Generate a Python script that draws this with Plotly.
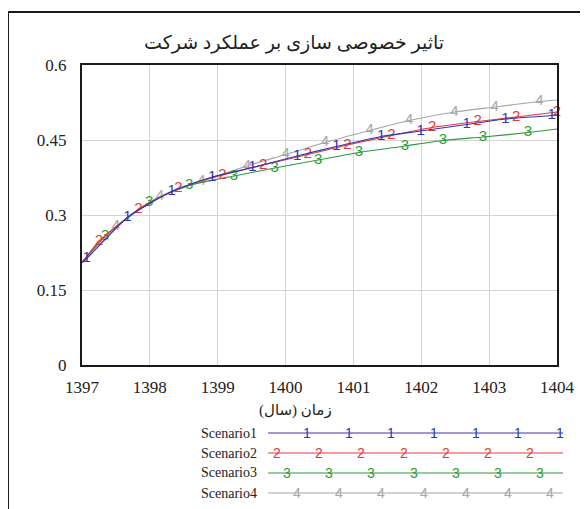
import plotly.graph_objects as go

# ---- data ----
title_text = "تاثیر خصوصی سازی بر عملکرد شرکت"
xaxis_title = "زمان (سال)"
series_names = ["Scenario1", "Scenario2", "Scenario3", "Scenario4"]
series_marks = ["1", "2", "3", "4"]

t1 = [1397, 1397.07, 1397.67, 1398.32, 1398.92, 1399.51, 1400.17, 1400.75, 1401.41, 1401.99, 1402.67, 1403.24, 1403.92, 1404]
v1 = [0.205, 0.213, 0.295, 0.347, 0.376, 0.395, 0.418, 0.437, 0.457, 0.468, 0.481, 0.492, 0.499, 0.501]

t2 = [1397, 1397.25, 1397.83, 1398.42, 1399.07, 1399.67, 1400.33, 1400.91, 1401.56, 1402.16, 1402.83, 1403.4, 1404]
v2 = [0.205, 0.247, 0.311, 0.353, 0.380, 0.400, 0.421, 0.440, 0.459, 0.475, 0.487, 0.496, 0.506]

t3 = [1397, 1397.34, 1397.99, 1398.58, 1399.24, 1399.84, 1400.48, 1401.08, 1401.76, 1402.32, 1402.91, 1403.57, 1404]
v3 = [0.205, 0.258, 0.325, 0.359, 0.378, 0.394, 0.410, 0.425, 0.438, 0.449, 0.456, 0.465, 0.472]

t4 = [1397, 1397.5, 1398.15, 1398.76, 1399.43, 1400.0, 1400.58, 1401.24, 1401.82, 1402.49, 1403.08, 1403.74, 1404]
v4 = [0.205, 0.277, 0.337, 0.367, 0.398, 0.421, 0.445, 0.469, 0.489, 0.506, 0.516, 0.527, 0.530]

x_ticks = [1397, 1398, 1399, 1400, 1401, 1402, 1403, 1404]
y_ticks = [0, 0.15, 0.3, 0.45, 0.6]
y_ticklabels = ["0", "0.15", "0.3", "0.45", "0.6"]

colors = ["#3434b8", "#e23a3a", "#2f9a35", "#a6a6a6"]

# ---- layout geometry (screen pixels; page body adds an 8px offset) ----
OFF = 8
W, H = 588 - OFF, 509 - OFF
L, R, T, B = 82 - OFF, 557 - OFF, 65 - OFF, 365 - OFF


def px(x):
    return (x - OFF - L) / (R - L)


def py(y):
    return (B - (y - OFF)) / (B - T)


fig = go.Figure()

all_t = [t1, t2, t3, t4]
all_v = [v1, v2, v3, v4]

# draw gray first, blue last
for i in [3, 2, 1, 0]:
    t, v = all_t[i], all_v[i]
    texts = [""] + [series_marks[i]] * (len(t) - 2) + [""]
    if i == 1:
        texts[-1] = series_marks[i]
    fig.add_trace(go.Scatter(
        x=t, y=v, mode="lines+text", text=texts,
        textposition="middle center",
        textfont=dict(family="Liberation Sans, Arial", size=15, color=colors[i]),
        line=dict(color=colors[i], width=1.2, shape="spline", smoothing=0.6),
        cliponaxis=False, showlegend=False, name=series_names[i],
        hoverinfo="skip",
    ))

shapes = []
annotations = []

# outer frame
shapes.append(dict(type="rect", xref="paper", yref="paper",
                   x0=px(8), x1=px(586), y0=py(12), y1=py(520),
                   line=dict(color="#1a1a1a", width=2), layer="below"))

# x axis title
annotations.append(dict(text=xaxis_title, xref="paper", yref="paper",
                        x=px(295), y=py(410), showarrow=False,
                        font=dict(family="Liberation Serif, DejaVu Sans", size=15, color="#222"),
                        xanchor="center", yanchor="middle"))

# legend (drawn manually, Vensim style)
leg_rows = [433, 453, 473, 493]
leg_x0, leg_x1 = 268, 563
leg_mark_start = [307, 277, 287, 297]
leg_step = 42.2
for i in range(4):
    y = leg_rows[i]
    shapes.append(dict(type="line", xref="paper", yref="paper",
                       x0=px(leg_x0), x1=px(leg_x1), y0=py(y), y1=py(y),
                       line=dict(color=colors[i], width=1.2)))
    annotations.append(dict(text=series_names[i], xref="paper", yref="paper",
                            x=px(259), y=py(y), showarrow=False,
                            xanchor="right", yanchor="middle",
                            font=dict(family="Liberation Serif, Times New Roman, serif", size=14, color="#222")))
    for k in range(7):
        annotations.append(dict(text=series_marks[i], xref="paper", yref="paper",
                                x=px(leg_mark_start[i] + k * leg_step), y=py(y),
                                showarrow=False, xanchor="center", yanchor="middle",
                                font=dict(family="Liberation Sans, Arial", size=14, color=colors[i])))

fig.update_layout(
    width=W, height=H,
    margin=dict(l=L, r=W - R, t=T, b=H - B),
    paper_bgcolor="white", plot_bgcolor="white",
    title=dict(text=title_text, x=(294 - OFF) / W, xref="container", xanchor="center",
               y=1 - (42 - OFF) / H, yref="container", yanchor="middle",
               font=dict(family="Liberation Serif, DejaVu Sans", size=19, color="#222")),
    shapes=shapes, annotations=annotations,
    xaxis=dict(range=[1397, 1404], tickvals=x_ticks, ticktext=[str(v) for v in x_ticks],
               showgrid=True, gridcolor="#d4d4d4", gridwidth=1,
               showline=True, linecolor="#1a1a1a", linewidth=2, mirror=True,
               ticks="", zeroline=False, ticklabelstandoff=6,
               tickfont=dict(family="Liberation Serif, Times New Roman, serif", size=17, color="#222")),
    yaxis=dict(range=[0, 0.6], tickvals=y_ticks, ticktext=y_ticklabels,
               showgrid=True, gridcolor="#d4d4d4", gridwidth=1,
               showline=True, linecolor="#1a1a1a", linewidth=2, mirror=True,
               ticks="", zeroline=False, ticklabelstandoff=10,
               tickfont=dict(family="Liberation Serif, Times New Roman, serif", size=17, color="#222")),
)

fig.write_html("out.html")
